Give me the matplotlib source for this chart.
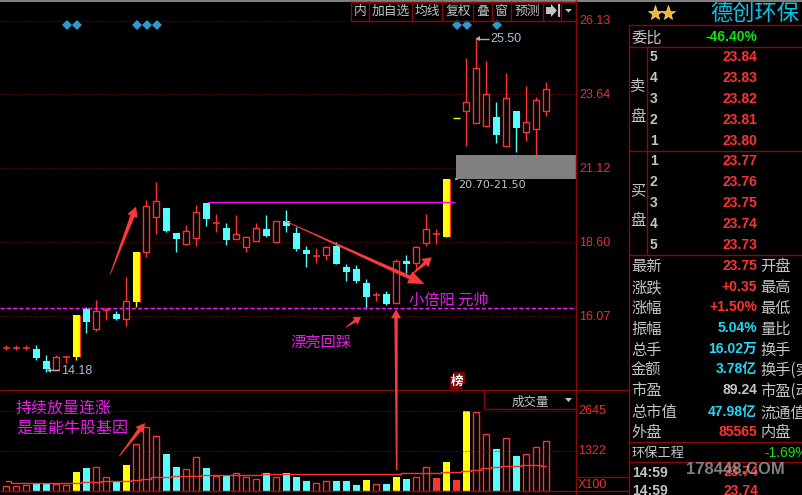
import numpy as np
import matplotlib
matplotlib.use('Agg')
import matplotlib.pyplot as plt
from matplotlib.patches import Polygon, Rectangle

plt.rcParams['font.family'] = ['Noto Sans CJK SC', 'DejaVu Sans']

# candle data, one entry per trading day
opens = [15.00, 15.00, 15.00, 14.96, 14.55, 14.24, 14.69, 14.70, 16.32, 15.64, 16.30, 16.15, 15.99, 16.57,
         18.28, 19.47, 19.77, 18.91, 18.55, 18.76, 19.94, 19.25, 19.09, 18.72, 18.45, 18.64, 19.05, 18.62,
         19.32, 18.91, 18.34, 18.13, 18.18, 18.47, 17.76, 17.69, 17.21, 16.80, 16.83, 16.54, 17.96, 17.90,
         18.58, 18.88, 18.79, 22.83, 23.07, 22.68, 22.57, 22.87, 21.89, 23.08, 22.35, 22.45, 23.07]
closes = [15.00, 15.00, 15.00, 14.66, 14.28, 14.68, 14.69, 16.12, 15.89, 16.25, 16.30, 15.99, 16.60, 18.27,
          19.84, 20.01, 18.98, 18.71, 18.97, 19.62, 19.39, 19.25, 18.68, 18.87, 18.77, 19.08, 18.81, 19.31,
          19.15, 18.37, 18.20, 18.13, 18.44, 17.86, 17.59, 17.28, 16.73, 16.80, 16.49, 17.95, 17.86, 18.44,
          19.04, 18.88, 20.76, 22.83, 23.37, 24.53, 23.65, 22.27, 23.51, 22.50, 22.69, 23.44, 23.82]
highs = [15.10, 15.10, 15.10, 15.10, 14.75, 14.75, 14.72, 16.12, 16.39, 16.63, 16.37, 16.26, 17.41, 18.27,
         20.04, 20.65, 19.77, 18.91, 19.19, 19.87, 19.94, 19.56, 19.26, 19.53, 18.81, 19.26, 19.53, 19.31,
         19.70, 19.12, 18.47, 18.40, 18.47, 18.61, 17.86, 17.82, 17.35, 16.90, 16.94, 18.03, 18.17, 18.47,
         19.56, 19.05, 20.76, 22.83, 24.88, 25.55, 24.78, 23.37, 24.37, 23.08, 23.93, 23.54, 24.07]
lows = [14.92, 14.92, 14.92, 14.58, 14.18, 14.24, 14.48, 14.58, 15.51, 15.57, 15.95, 15.95, 15.74, 16.40,
        18.11, 18.88, 18.95, 18.27, 18.51, 18.47, 19.15, 18.95, 18.51, 18.72, 18.27, 18.64, 18.78, 18.58,
        18.95, 18.30, 17.77, 17.89, 17.99, 17.86, 17.28, 17.21, 16.31, 16.60, 16.46, 16.54, 17.55, 17.65,
        18.47, 18.54, 18.79, 22.83, 21.89, 22.66, 22.57, 21.99, 21.89, 21.69, 22.06, 21.58, 22.91]
# r hollow red, c cyan, y solid yellow
candle_kind = list('rrrccrrycr' 'rcryrrccrr' 'crcrrrcrcc' 'crrccccrcr' 'crrryyrrrc' 'rcrrr')

volumes = [165, 165, 198, 242, 242, 231, 198, 639, 771, 793, 462, 308, 870, 1553, 2115, 1818, 1234, 804, 727,
           1124, 771, 495, 517, 595, 462, 396, 606, 462, 606, 473, 341, 264, 330, 341, 341, 209, 374, 231,
           242, 473, 407, 462, 793, 440, 969, 374, 2655, 2611, 1884, 1399, 1752, 1168, 1223, 1454, 1653]
vol_ma = [330, 286, 286, 286, 286, 286, 286, 286, 297, 297, 330, 330, 330, 363, 396, 462, 462, 495, 495, 495,
          529, 529, 529, 540, 540, 540, 562, 562, 562, 562, 562, 562, 562, 562, 562, 562, 562, 562, 562, 562,
          595, 595, 595, 595, 628, 628, 661, 716, 760, 793, 826, 826, 859, 859, 826]
# r hollow red, c cyan, y yellow, R solid red
vol_kind = list('rrrccrrycr' 'rcyrrrccrr' 'crcrrrcrcc' 'crrcccyrcy' 'crrRyRyrrc' 'rcrrr')

signal_days = [6, 7, 13, 14, 15, 45, 46, 49]
signal_price = 26.00

price_ticks = [26.13, 23.64, 21.12, 18.60, 16.07]
vol_ticks = [2645, 1322]
support_price = 16.35
resistance_price = 19.96
zone_low, zone_high = 20.76, 21.58

toolbar_edges = [350.7, 369.3, 411.7, 442.3, 473.3, 492.3, 511.3, 542.7, 561.3, 575.7]
toolbar_labels = ['内', '加自选', '均线', '复权', '叠', '窗', '预测']

ask_prices = ['23.84', '23.83', '23.82', '23.81', '23.80']
bid_prices = ['23.77', '23.76', '23.75', '23.74', '23.73']
ask_rows = ['5', '4', '3', '2', '1']
bid_rows = ['1', '2', '3', '4', '5']
info_left = ['最新', '涨跌', '涨幅', '振幅', '总手', '金额', '市盈', '总市值', '外盘']
info_values = ['23.75', '+0.35', '+1.50%', '5.04%', '16.02万', '3.78亿', '89.24', '47.98亿', '85565']
info_right = ['开盘', '最高', '最低', '量比', '换手', '换手(实', '市盈(动', '流通值', '内盘']

RED = '#ff3232'
CYAN = '#55ffff'
YELLOW = '#ffff00'
DARK = '#8a0808'
GRAY = '#c4c4c4'
MAGENTA = '#e81ee8'
CJK = ['Noto Sans CJK SC', 'DejaVu Sans']
NUM = ['Liberation Sans', 'Noto Sans CJK SC']
W, H = 802, 495

fig = plt.figure(figsize=(W / 100, H / 100), dpi=100, facecolor='black')


def make_axes(x0, y0, x1, y1):
    # pixel box, y counted from the top of the picture
    ax = fig.add_axes([x0 / W, 1 - y1 / H, (x1 - x0) / W, (y1 - y0) / H])
    ax.set_facecolor('none')
    ax.axis('off')
    return ax


ax_price = make_axes(0, 0, 576, 390)
ax_price.set_xlim(-0.63, 56.97)
ax_price.set_ylim(26.863 - 0.03411 * 390, 26.863)
ax_vol = make_axes(0, 390, 576, 495)
ax_vol.set_xlim(-0.63, 56.97)
ax_vol.set_ylim(-122, 3350)
overlay = make_axes(0, 0, W, H)
overlay.set_xlim(0, W)
overlay.set_ylim(H, 0)

# grid
for p in price_ticks:
    ax_price.axhline(p, color=DARK, lw=0.72, ls=(0, (1, 2)))
for v in vol_ticks:
    ax_vol.axhline(v, color=DARK, lw=0.72, ls=(0, (1, 2)))

# candles
days = np.arange(len(opens))
for i in days:
    o, c, hi, lo = opens[i], closes[i], highs[i], lows[i]
    kind = candle_kind[i]
    if i == 45:
        ax_price.hlines(c, i - 0.35, i + 0.35, color=YELLOW, lw=1)
        continue
    color = {'r': RED, 'c': CYAN, 'y': YELLOW}[kind]
    ax_price.vlines(i, lo, hi, color=color, lw=1, zorder=2)
    if o == c:
        ax_price.hlines(c, i - 0.35, i + 0.35, color=color, lw=1.1, zorder=3)
    elif kind == 'r':
        ax_price.bar(i, abs(c - o), bottom=min(o, c), width=0.6, facecolor='black', edgecolor=RED, lw=1, zorder=3)
    else:
        ax_price.bar(i, abs(c - o), bottom=min(o, c), width=0.65, color=color, lw=0, zorder=3)
        if kind == 'y':
            ax_price.vlines(i + 0.33, min(o, c), max(o, c), color=RED, lw=0.8, zorder=4)

ax_price.plot(np.array(signal_days) + 0.1, [signal_price] * len(signal_days),
              ls='none', marker='D', ms=5.6, color='#2b9bcc', mew=0)

# zone and guide lines
ax_price.add_patch(Rectangle((44.97, zone_low), 57 - 44.97, zone_high - zone_low, color='#808080', lw=0, zorder=5))
ax_price.hlines(resistance_price, 20.1, 44.9, color='#f010f0', lw=1, zorder=4)
ax_price.axhline(support_price, color='#ff10ff', lw=1, ls=(0, (3, 1.5)), zorder=4)

# volume
for i in days:
    kind = vol_kind[i]
    if kind == 'r':
        ax_vol.bar(i, volumes[i], width=0.6, facecolor='black', edgecolor=RED, lw=1)
    else:
        ax_vol.bar(i, volumes[i], width=0.68, color={'c': CYAN, 'y': YELLOW, 'R': RED}[kind], lw=0)
ax_vol.plot(days, vol_ma, color=RED, lw=1, drawstyle='steps-mid', zorder=5)


def rule(x0, y0, x1, y1, color=DARK, lw=1.0):
    overlay.plot([x0, x1], [y0, y1], color=color, lw=lw, solid_capstyle='butt')


def label(x, y, s, color=GRAY, size=9, ha='left', weight='normal', family=None, **kw):
    # the CJK family sits about a pixel high when centred
    if family is None:
        y = y + 1
    overlay.text(x, y, s, color=color, fontsize=size, ha=ha, va='center', fontweight=weight,
                 family=family or CJK, clip_on=True, **kw)


def red_arrow(tail, tip, head=12.0, neck=3.0, head_len=14.0, tail_w=0.8):
    # tapered hand drawn arrow, in picture pixels
    tail, tip = np.array(tail, float), np.array(tip, float)
    d = (tip - tail) / np.hypot(*(tip - tail))
    n = np.array([-d[1], d[0]])
    base = tip - d * head_len
    pts = [tail + n * tail_w / 2, base + n * neck / 2, base + n * head / 2, tip,
           base - n * head / 2, base - n * neck / 2, tail - n * tail_w / 2]
    overlay.add_patch(Polygon(pts, closed=True, color='#f83a3a', lw=0, zorder=6))


# frame lines
rule(0, 0.5, W, 0.5, color='#9a9a9a', lw=1.2)
rule(576.3, 0, 576.3, H)
rule(0, 390.3, 629, 390.3)
rule(0, 491.3, 629, 491.3)
rule(484.3, 390, 484.3, 409.3)
rule(484.3, 409.3, 576, 409.3)
rule(576, 477.3, 629, 477.3)
rule(629.3, 25, 629.3, H)
rule(629, 25.3, W, 25.3)
rule(629, 47.3, W, 47.3)
rule(629, 151, W, 151)
rule(629, 255.3, W, 255.3)
rule(629, 442.3, W, 442.3)
rule(629, 462, W, 462)
rule(646.7, 47, 646.7, 255)

# toolbar
rule(350.7, 20.5, 575.7, 20.5)
rule(350.7, 1.5, 575.7, 1.5)
for x in toolbar_edges:
    rule(x, 1, x, 20.5)
for x0, x1, s in zip(toolbar_edges, toolbar_edges[1:], toolbar_labels):
    label((x0 + x1) / 2, 10, s, size=9.2, ha='center')
overlay.add_patch(Polygon([[546, 7], [551, 7], [551, 4], [557, 10.5], [551, 17], [551, 14], [546, 14]], color=GRAY, lw=0))
overlay.add_patch(Rectangle((557.5, 4), 2, 13, color=GRAY, lw=0))
overlay.add_patch(Polygon([[565, 9], [572, 9], [568.5, 12.5]], color=GRAY, lw=0))

# axis labels
for p, y in zip(price_ticks, [21.5, 94.5, 168.5, 242.5, 316.5]):
    label(579, y, f'{p:.2f}', color='#e83030', size=9, family='Liberation Sans')
label(578, 411.3, '2645', color='#e83030', size=9, family='Liberation Sans')
label(578, 451.3, '1322', color='#e83030', size=9, family='Liberation Sans')
label(578, 484.5, 'X100', color='#e83030', size=9, family='Liberation Sans')

# price callouts
rule(476, 38.5, 489, 38.5, color='#b0b0b0')
overlay.add_patch(Polygon([[476, 38.5], [480, 36], [480, 41]], color='#b0b0b0', lw=0))
label(490, 38.5, '25.50', color='#a8c0d0', size=9, family='Liberation Sans')
rule(47, 370.3, 59, 370.3, color='#b0b0b0')
overlay.add_patch(Polygon([[47, 370.3], [51, 368], [51, 373]], color='#b0b0b0', lw=0))
label(61, 370.5, '14.18', color='#a8c0d0', size=9, family='Liberation Sans')
label(458, 185, '20.70-21.50', color=GRAY, size=8, family='DejaVu Sans')
overlay.add_patch(Rectangle((455, 177.5), 2.5, 2.5, color='#909090', lw=0, zorder=7))

# hand drawn notes
red_arrow((110.3, 274), (136, 206.7), head=11, neck=4.5, head_len=10)
red_arrow((285, 221), (424.3, 284), head=13, neck=4, head_len=16)
red_arrow((410, 276), (431.7, 257.3), head=11, neck=3.5, head_len=9)
red_arrow((345.7, 327.3), (361, 317), head=9, neck=3, head_len=7)
red_arrow((396.7, 470), (396, 309.3), head=10, neck=3.4, head_len=9, tail_w=1.6)
red_arrow((119.3, 456), (145, 423), head=10, neck=4, head_len=9)
label(409, 299, '小倍阳 元帅', color=MAGENTA, size=11)
label(290, 341, '漂亮回踩', color=MAGENTA, size=11)
label(16, 407, '持续放量连涨', color=MAGENTA, size=11.5)
label(16, 427.5, '是量能牛股基因', color=MAGENTA, size=11.5)
overlay.add_patch(Rectangle((453, 372), 12, 12, color='#7a0606', lw=0))
overlay.add_patch(Rectangle((450, 376), 12, 13, color='#7a0606', lw=0))
label(457.5, 380.5, '榜', color='white', size=9, ha='center', weight='bold')

# volume panel header
label(530, 401, '成交量', size=9, ha='center')
overlay.add_patch(Polygon([[565, 398], [572, 398], [568.5, 402]], color=GRAY, lw=0))

# right panel
overlay.plot([655, 668], [13, 13], ls='none', marker='*', ms=11, color='#f2b632', mec='#fff0a0', mew=0.4)
label(710, 12, '德创环保', color='#06c4e8', size=16)
label(631, 37, '委比', size=11)
label(757, 37, '-46.40%', color='#12e012', size=10, ha='right', weight='bold', family='Liberation Sans')
for y, s in zip([85, 116, 190, 220], '卖盘买盘'):
    label(637.5, y, s, size=11, ha='center')
for y, n, s in zip([57, 78, 99, 120, 141], ask_rows, ask_prices):
    label(650, y, n, size=10, weight='bold', family='Liberation Sans')
    label(757, y, s, color=RED, size=10, ha='right', weight='bold', family='Liberation Sans')
for y, n, s in zip([161, 182, 203, 224, 245], bid_rows, bid_prices):
    label(650, y, n, size=10, weight='bold', family='Liberation Sans')
    label(757, y, s, color=RED, size=10, ha='right', weight='bold', family='Liberation Sans')

info_colors = [RED, RED, RED, '#22d8f8', '#22d8f8', '#22d8f8', GRAY, '#22d8f8', RED]
info_y = [265.7, 286.7, 307, 328, 349, 369, 390, 412, 432]
for y, a, v, b, col in zip(info_y, info_left, info_values, info_right, info_colors):
    label(631, y, a, size=11)
    label(757, y, v, color=col, size=10, ha='right', weight='bold', family=NUM)
    label(760, y, b, size=11)

label(632, 452.7, '环保工程', size=9.5)
label(764, 452.7, '-1.69%', color='#12e012', size=10, family='Liberation Sans')
label(632, 472.7, '14:59', size=10, weight='bold', family='Liberation Sans')
label(632, 491, '14:59', size=10, weight='bold', family='Liberation Sans')
label(758, 472.5, '23.74', color=RED, size=10, ha='right', weight='bold', family='Liberation Sans')
label(758, 491, '23.74', color=RED, size=10, ha='right', weight='bold', family='Liberation Sans')
label(735, 470, '178448.COM', color='#a0a0a0', size=12, ha='center', weight='bold', family='Liberation Sans', alpha=0.8)

fig.savefig('out.png', dpi=100, facecolor='black')
